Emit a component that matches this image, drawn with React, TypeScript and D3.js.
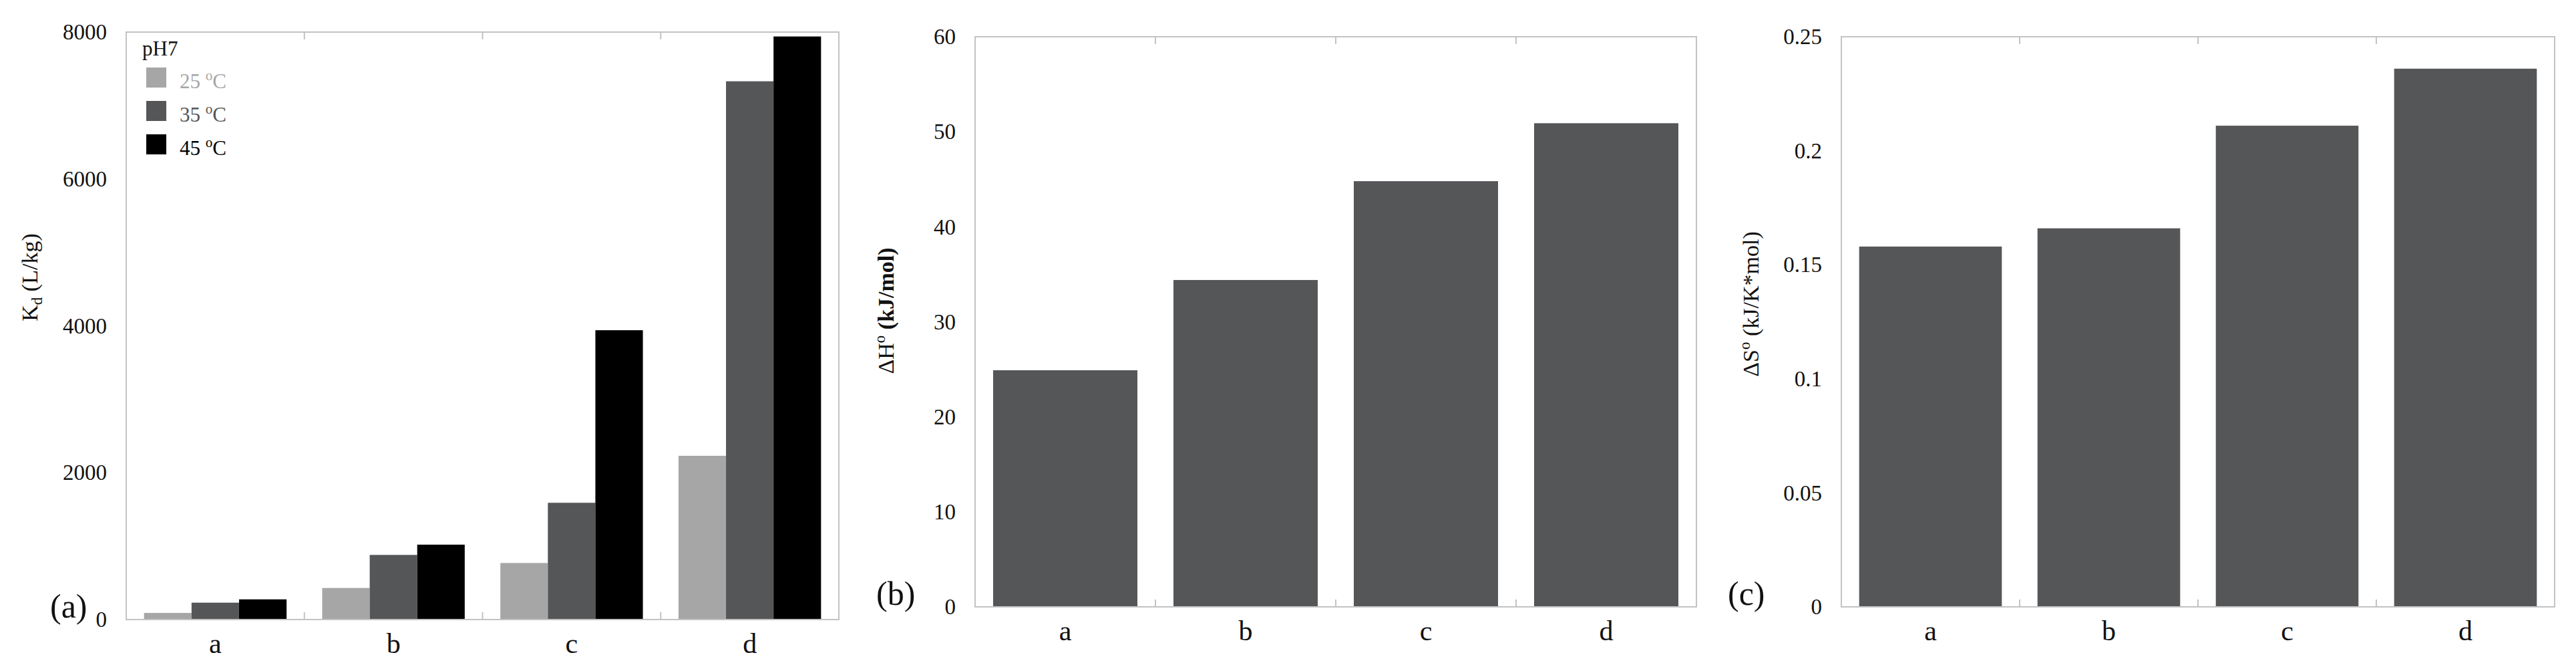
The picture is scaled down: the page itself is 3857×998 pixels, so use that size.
import React, { useEffect, useRef } from "react";
import * as d3 from "d3";

const categories = ["a", "b", "c", "d"];
const tempLabels = ["25", "35", "45"];
const kd25 = [90, 430, 770, 2230];
const kd35 = [230, 880, 1590, 7330];
const kd45 = [275, 1020, 3940, 7940];
const deltaH = [24.9, 34.4, 44.8, 50.9];
const deltaS = [0.158, 0.166, 0.211, 0.236];
const kdTicks = [0, 2000, 4000, 6000, 8000];
const hTicks = [0, 10, 20, 30, 40, 50, 60];
const sTicks = [0, 0.05, 0.1, 0.15, 0.2, 0.25];

const FONT = "'Liberation Serif', 'Times New Roman', serif";
const tempColors = ["#a6a6a6", "#555658", "#000000"];
const barColor = "#555658";
const borderColor = "#c3c3c3";

const App = () => {
  const ref = useRef<SVGSVGElement>(null);

  useEffect(() => {
    draw();
  });

  let draw = () => {
    const svg = d3.select(ref.current);
    svg.selectAll("*").remove();

    const panel = (opts: any) => {
      const { x0, x1, yTop, yBottom, max, ticks, series, colors, letter, letterX } = opts;
      const g = svg.append("g");

      const x = d3
        .scaleBand()
        .domain(categories)
        .range([x0, x1])
        .paddingInner(0.2)
        .paddingOuter(0.1);
      const y = d3.scaleLinear().domain([0, max]).range([yBottom, yTop]);
      const step = x.step();

      // bars, one sub-band per series
      const sub = d3
        .scaleBand()
        .domain(series.map((_: any, i: number) => String(i)))
        .range([0, x.bandwidth()]);
      series.forEach((vals: number[], si: number) => {
        g.selectAll(null)
          .data(vals)
          .enter()
          .append("rect")
          .attr("x", (_d, i) => (x(categories[i]) as number) + (sub(String(si)) as number))
          .attr("width", sub.bandwidth())
          .attr("y", (d) => y(d))
          .attr("height", (d) => y(0) - y(d))
          .attr("fill", colors[si]);
      });

      // plot frame
      g.append("rect")
        .attr("x", x0)
        .attr("y", yTop)
        .attr("width", x1 - x0)
        .attr("height", yBottom - yTop)
        .attr("fill", "none")
        .attr("stroke", borderColor)
        .attr("stroke-width", 2);

      // category ticks, top and bottom, pointing inward
      const bounds = d3.range(1, categories.length).map((i) => x0 + i * step);
      bounds.forEach((bx) => {
        g.append("line")
          .attr("x1", bx).attr("x2", bx)
          .attr("y1", yTop).attr("y2", yTop + 11)
          .attr("stroke", borderColor).attr("stroke-width", 2);
        g.append("line")
          .attr("x1", bx).attr("x2", bx)
          .attr("y1", yBottom).attr("y2", yBottom - 11)
          .attr("stroke", borderColor).attr("stroke-width", 2);
      });

      // y tick labels
      g.selectAll(null)
        .data(ticks)
        .enter()
        .append("text")
        .attr("x", x0 - 29)
        .attr("y", (d: number) => y(d))
        .attr("dy", "0.34em")
        .attr("text-anchor", "end")
        .attr("font-family", FONT)
        .attr("font-size", 33)
        .attr("fill", "#111")
        .text((d: number) => String(d));

      // x labels
      g.selectAll(null)
        .data(categories)
        .enter()
        .append("text")
        .attr("x", (d) => (x(d) as number) + x.bandwidth() / 2)
        .attr("y", yBottom + 50)
        .attr("text-anchor", "middle")
        .attr("font-family", FONT)
        .attr("font-size", 42)
        .attr("fill", "#111")
        .text((d) => d);

      // panel letter
      g.append("text")
        .attr("x", letterX)
        .attr("y", yBottom - 3)
        .attr("font-family", FONT)
        .attr("font-size", 50)
        .attr("fill", "#111")
        .text(letter);

      return { g, x, y };
    };

    const pa = panel({
      x0: 189, x1: 1256, yTop: 48, yBottom: 927, max: 8000, ticks: kdTicks,
      series: [kd25, kd35, kd45], colors: tempColors, letter: "(a)", letterX: 75,
    });
    panel({
      x0: 1460, x1: 2540, yTop: 55, yBottom: 908, max: 60, ticks: hTicks,
      series: [deltaH], colors: [barColor], letter: "(b)", letterX: 1312,
    });
    panel({
      x0: 2757, x1: 3825, yTop: 55, yBottom: 908, max: 0.25, ticks: sTicks,
      series: [deltaS], colors: [barColor], letter: "(c)", letterX: 2587,
    });

    // legend in panel (a)
    const lg = pa.g.append("g");
    lg.append("text")
      .attr("x", 213).attr("y", 83)
      .attr("font-family", FONT).attr("font-size", 31).attr("fill", "#111")
      .text("pH7");
    tempLabels.forEach((t, i) => {
      const yy = 101 + i * 50;
      lg.append("rect")
        .attr("x", 219).attr("y", yy).attr("width", 30).attr("height", 30)
        .attr("fill", tempColors[i]);
      const tx = lg.append("text")
        .attr("x", 269).attr("y", yy + 31)
        .attr("font-family", FONT).attr("font-size", 31).attr("fill", tempColors[i]);
      tx.append("tspan").text(t + " ");
      tx.append("tspan").attr("dy", -12).attr("font-size", 21).text("o");
      tx.append("tspan").attr("dy", 12).text("C");
    });

    // axis titles
    const title = (cx: number, cy: number) =>
      svg.append("text")
        .attr("transform", `translate(${cx},${cy}) rotate(-90)`)
        .attr("text-anchor", "middle")
        .attr("font-family", FONT)
        .attr("font-size", 34)
        .attr("fill", "#111");

    const t1 = title(56, 415);
    t1.append("tspan").text("K");
    t1.append("tspan").attr("dy", 7).attr("font-size", 23).text("d");
    t1.append("tspan").attr("dy", -7).text(" (L/kg)");

    const t2 = title(1338, 465);
    t2.append("tspan").text("ΔH");
    t2.append("tspan").attr("dy", -13).attr("font-size", 23).text("o");
    t2.append("tspan").attr("dy", 13).attr("font-weight", "bold").text(" (kJ/mol)");

    const t3 = title(2633, 455);
    t3.append("tspan").text("ΔS");
    t3.append("tspan").attr("dy", -13).attr("font-size", 23).text("o");
    t3.append("tspan").attr("dy", 13).text(" (kJ/K*mol)");
  };

  return (
    <svg
      ref={ref}
      width={3857}
      height={998}
      style={{ position: "absolute", left: 0, top: 0, background: "#fff" }}
    />
  );
};

export default App;
